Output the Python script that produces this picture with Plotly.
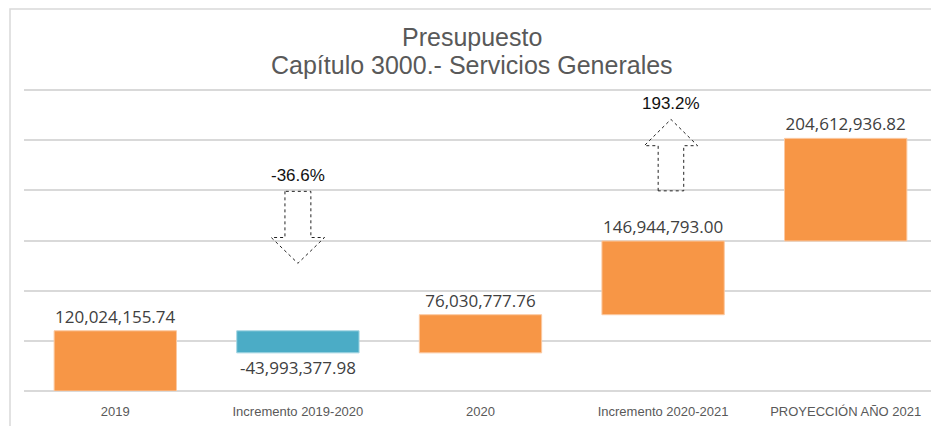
import plotly.graph_objects as go

# ---- data ----
categories = ["2019", "Incremento 2019-2020", "2020", "Incremento 2020-2021", "PROYECCIÓN AÑO 2021"]
values = [120024155.74, -43993377.98, 76030777.76, 146944793.00, 204612936.82]
pct_labels = ["-36.6%", "193.2%"]
title_lines = ["Presupuesto", "Capítulo 3000.- Servicios Generales"]

ORANGE = "#F79646"
TEAL = "#4BACC6"
GRID = "#D9D9D9"

# the page body has an 8px default margin, so the figure is sized to fit the window
OFF = 8
W, H = 939 - OFF, 426 - OFF
ML, MR, MT, MB = 24 - OFF, 2, 85 - OFF, 35
pw = W - ML - MR
ph = H - MT - MB


def px_x(p):  # window pixel -> paper x
    return (p - OFF - ML) / pw


def px_y(q):  # window pixel -> paper y
    return (H - MB - (q - OFF)) / ph


fig = go.Figure()
fig.add_trace(go.Waterfall(
    x=categories,
    y=values,
    measure=["relative"] * len(values),
    text=[f"{v:,.2f}" for v in values],
    textposition="outside",
    textfont=dict(family="Open Sans", size=17, color="#404040"),
    increasing=dict(marker=dict(color=ORANGE, line=dict(color="#FBC9A2", width=1))),
    decreasing=dict(marker=dict(color=TEAL, line=dict(color="#A5D6E3", width=1))),
    connector=dict(visible=False),
    cliponaxis=False,
    hoverinfo="skip",
))


def arrow_path(cx, y_base, y_neck, y_tip, shaft_hw, head_hw):
    pts = [
        (cx - shaft_hw, y_base), (cx - shaft_hw, y_neck), (cx - head_hw, y_neck),
        (cx, y_tip), (cx + head_hw, y_neck), (cx + shaft_hw, y_neck),
        (cx + shaft_hw, y_base),
    ]
    return "M " + " L ".join(f"{x},{y}" for x, y in pts) + " Z"


# down arrow (decrease 2019-2020)
fig.add_shape(type="path", xref="x", yref="y",
              path=arrow_path(1.0, 3.98e8, 3.06e8, 2.545e8, 0.071, 0.146),
              line=dict(color="#222222", width=1, dash="dot"), fillcolor="rgba(0,0,0,0)")
# up arrow (increase 2020-2021)
fig.add_shape(type="path", xref="x", yref="y",
              path=arrow_path(3.043, 3.99e8, 4.89e8, 5.415e8, 0.070, 0.146),
              line=dict(color="#222222", width=1, dash="dot"), fillcolor="rgba(0,0,0,0)")

fig.add_annotation(x=1.0, y=4.305e8, xref="x", yref="y", text=pct_labels[0], showarrow=False,
                   font=dict(family="Liberation Sans", size=17, color="#111111"))
fig.add_annotation(x=3.043, y=5.74e8, xref="x", yref="y", text=pct_labels[1], showarrow=False,
                   font=dict(family="Liberation Sans", size=17, color="#111111"))

# title as two centred lines
for line, yc in zip(title_lines, [37, 65]):
    fig.add_annotation(x=px_x(472), xref="paper", y=px_y(yc), yref="paper", yanchor="middle",
                       text=line, showarrow=False,
                       font=dict(family="Liberation Sans", size=25, color="#595959"))

# outer frame (top and left border)
fig.add_shape(type="path", xref="paper", yref="paper",
              path=f"M {px_x(10)},{px_y(430)} L {px_x(10)},{px_y(9)} L {px_x(945)},{px_y(9)}",
              line=dict(color=GRID, width=1.5))

fig.update_layout(
    width=W, height=H,
    margin=dict(l=ML, r=MR, t=MT, b=MB, autoexpand=False),
    paper_bgcolor="white", plot_bgcolor="white",
    showlegend=False,
    waterfallgap=0.33,
    xaxis=dict(type="category", showgrid=False, showline=False, zeroline=False,
               automargin=False,
               tickfont=dict(family="Liberation Sans", size=13, color="#595959"),
               ticks="outside", ticklen=8, tickcolor="rgba(0,0,0,0)"),
    yaxis=dict(range=[0, 6.1e8], dtick=1e8, showticklabels=False, showgrid=True,
               automargin=False,
               gridcolor=GRID, gridwidth=1.5, zeroline=True, zerolinecolor=GRID,
               zerolinewidth=1.5, showline=False),
)

fig.write_html("out.html")
